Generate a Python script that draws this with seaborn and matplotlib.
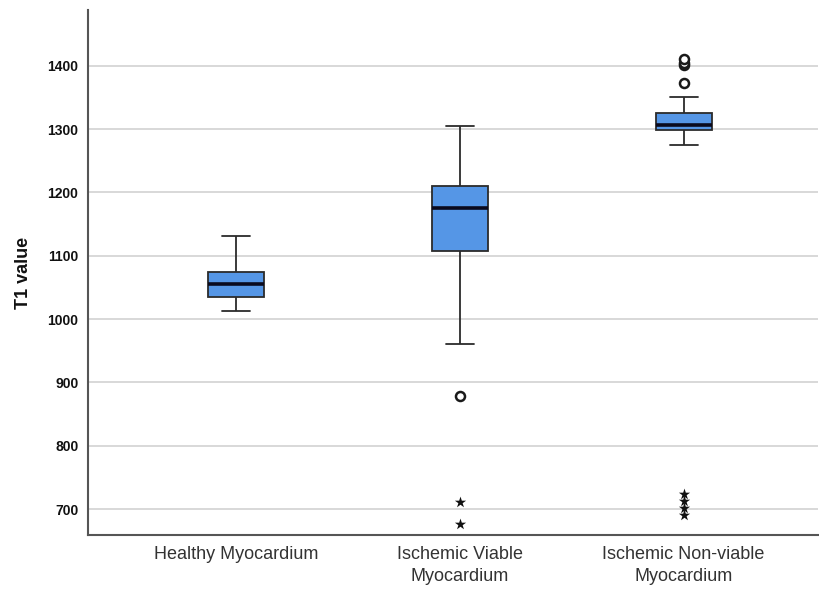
import pandas as pd
import seaborn as sns
import matplotlib.pyplot as plt

# values
groups = ['Healthy Myocardium', 'Ischemic Viable\nMyocardium', 'Ischemic Non-viable\nMyocardium']
whisker_low = [1012, 961, 1275]
q1 = [1035, 1108, 1299]
median = [1055, 1175, 1306]
q3 = [1074, 1210, 1326]
whisker_high = [1131, 1305, 1350]

# circles = outliers, stars = extreme values
outlier_group = [groups[1], groups[2], groups[2], groups[2], groups[2]]
outlier_value = [878, 1373, 1401, 1405, 1410]
extreme_group = [groups[1], groups[1], groups[2], groups[2], groups[2], groups[2]]
extreme_value = [711, 676, 723, 713, 701, 690]

# five values per group give exactly min/q1/median/q3/max
rows = []
for i, g in enumerate(groups):
    for v in (whisker_low[i], q1[i], median[i], q3[i], whisker_high[i]):
        rows.append({'group': g, 'T1': v})
box_df = pd.DataFrame(rows)
out_df = pd.DataFrame({'group': outlier_group, 'T1': outlier_value})
ext_df = pd.DataFrame({'group': extreme_group, 'T1': extreme_value})

sns.set_style('white')
plt.rcParams['font.family'] = ['Liberation Sans', 'DejaVu Sans']

fig = plt.figure(figsize=(8.2, 5.9), dpi=100)
ax = fig.add_axes([0.1073, 0.0932, 0.8902, 0.8898])

ax.set_axisbelow(True)
ax.yaxis.grid(True, color='#d2d2d2', linewidth=1.2)

sns.boxplot(data=box_df, x='group', y='T1', order=groups, ax=ax,
            whis=(0, 100), width=0.25, showfliers=False, saturation=1,
            color='#5596e6', linecolor='#2b2b2b', linewidth=1.3,
            medianprops={'color': '#0a0a1e', 'linewidth': 2.6},
            capwidths=0.125)

sns.stripplot(data=out_df, x='group', y='T1', order=groups, ax=ax,
              jitter=False, marker='o', color='white', edgecolor='#1a1a1a',
              linewidth=1.8, size=6.5, zorder=5)
sns.stripplot(data=ext_df, x='group', y='T1', order=groups, ax=ax,
              jitter=False, marker='*', color='#111111', size=8.5, zorder=5)

ax.set_xlim(-0.66, 2.6)
ax.set_ylim(659, 1488)
ax.set_yticks([700, 800, 900, 1000, 1100, 1200, 1300, 1400])

sns.despine(ax=ax)
for s in ('left', 'bottom'):
    ax.spines[s].set_color('#555555')
    ax.spines[s].set_linewidth(1.5)

ax.set_xlabel('')
ax.set_ylabel('T1 value', fontsize=13, fontweight='bold', color='#111111')
ax.yaxis.set_label_coords(-0.077, 0.5)
ax.tick_params(axis='y', length=0, pad=7, labelsize=10, labelcolor='#111111')
for t in ax.get_yticklabels():
    t.set_fontweight('bold')
ax.tick_params(axis='x', length=0, pad=8, labelsize=13, labelcolor='#333333')
for t in ax.get_xticklabels():
    t.set_linespacing(1.35)

fig.savefig('out.png', dpi=100)
